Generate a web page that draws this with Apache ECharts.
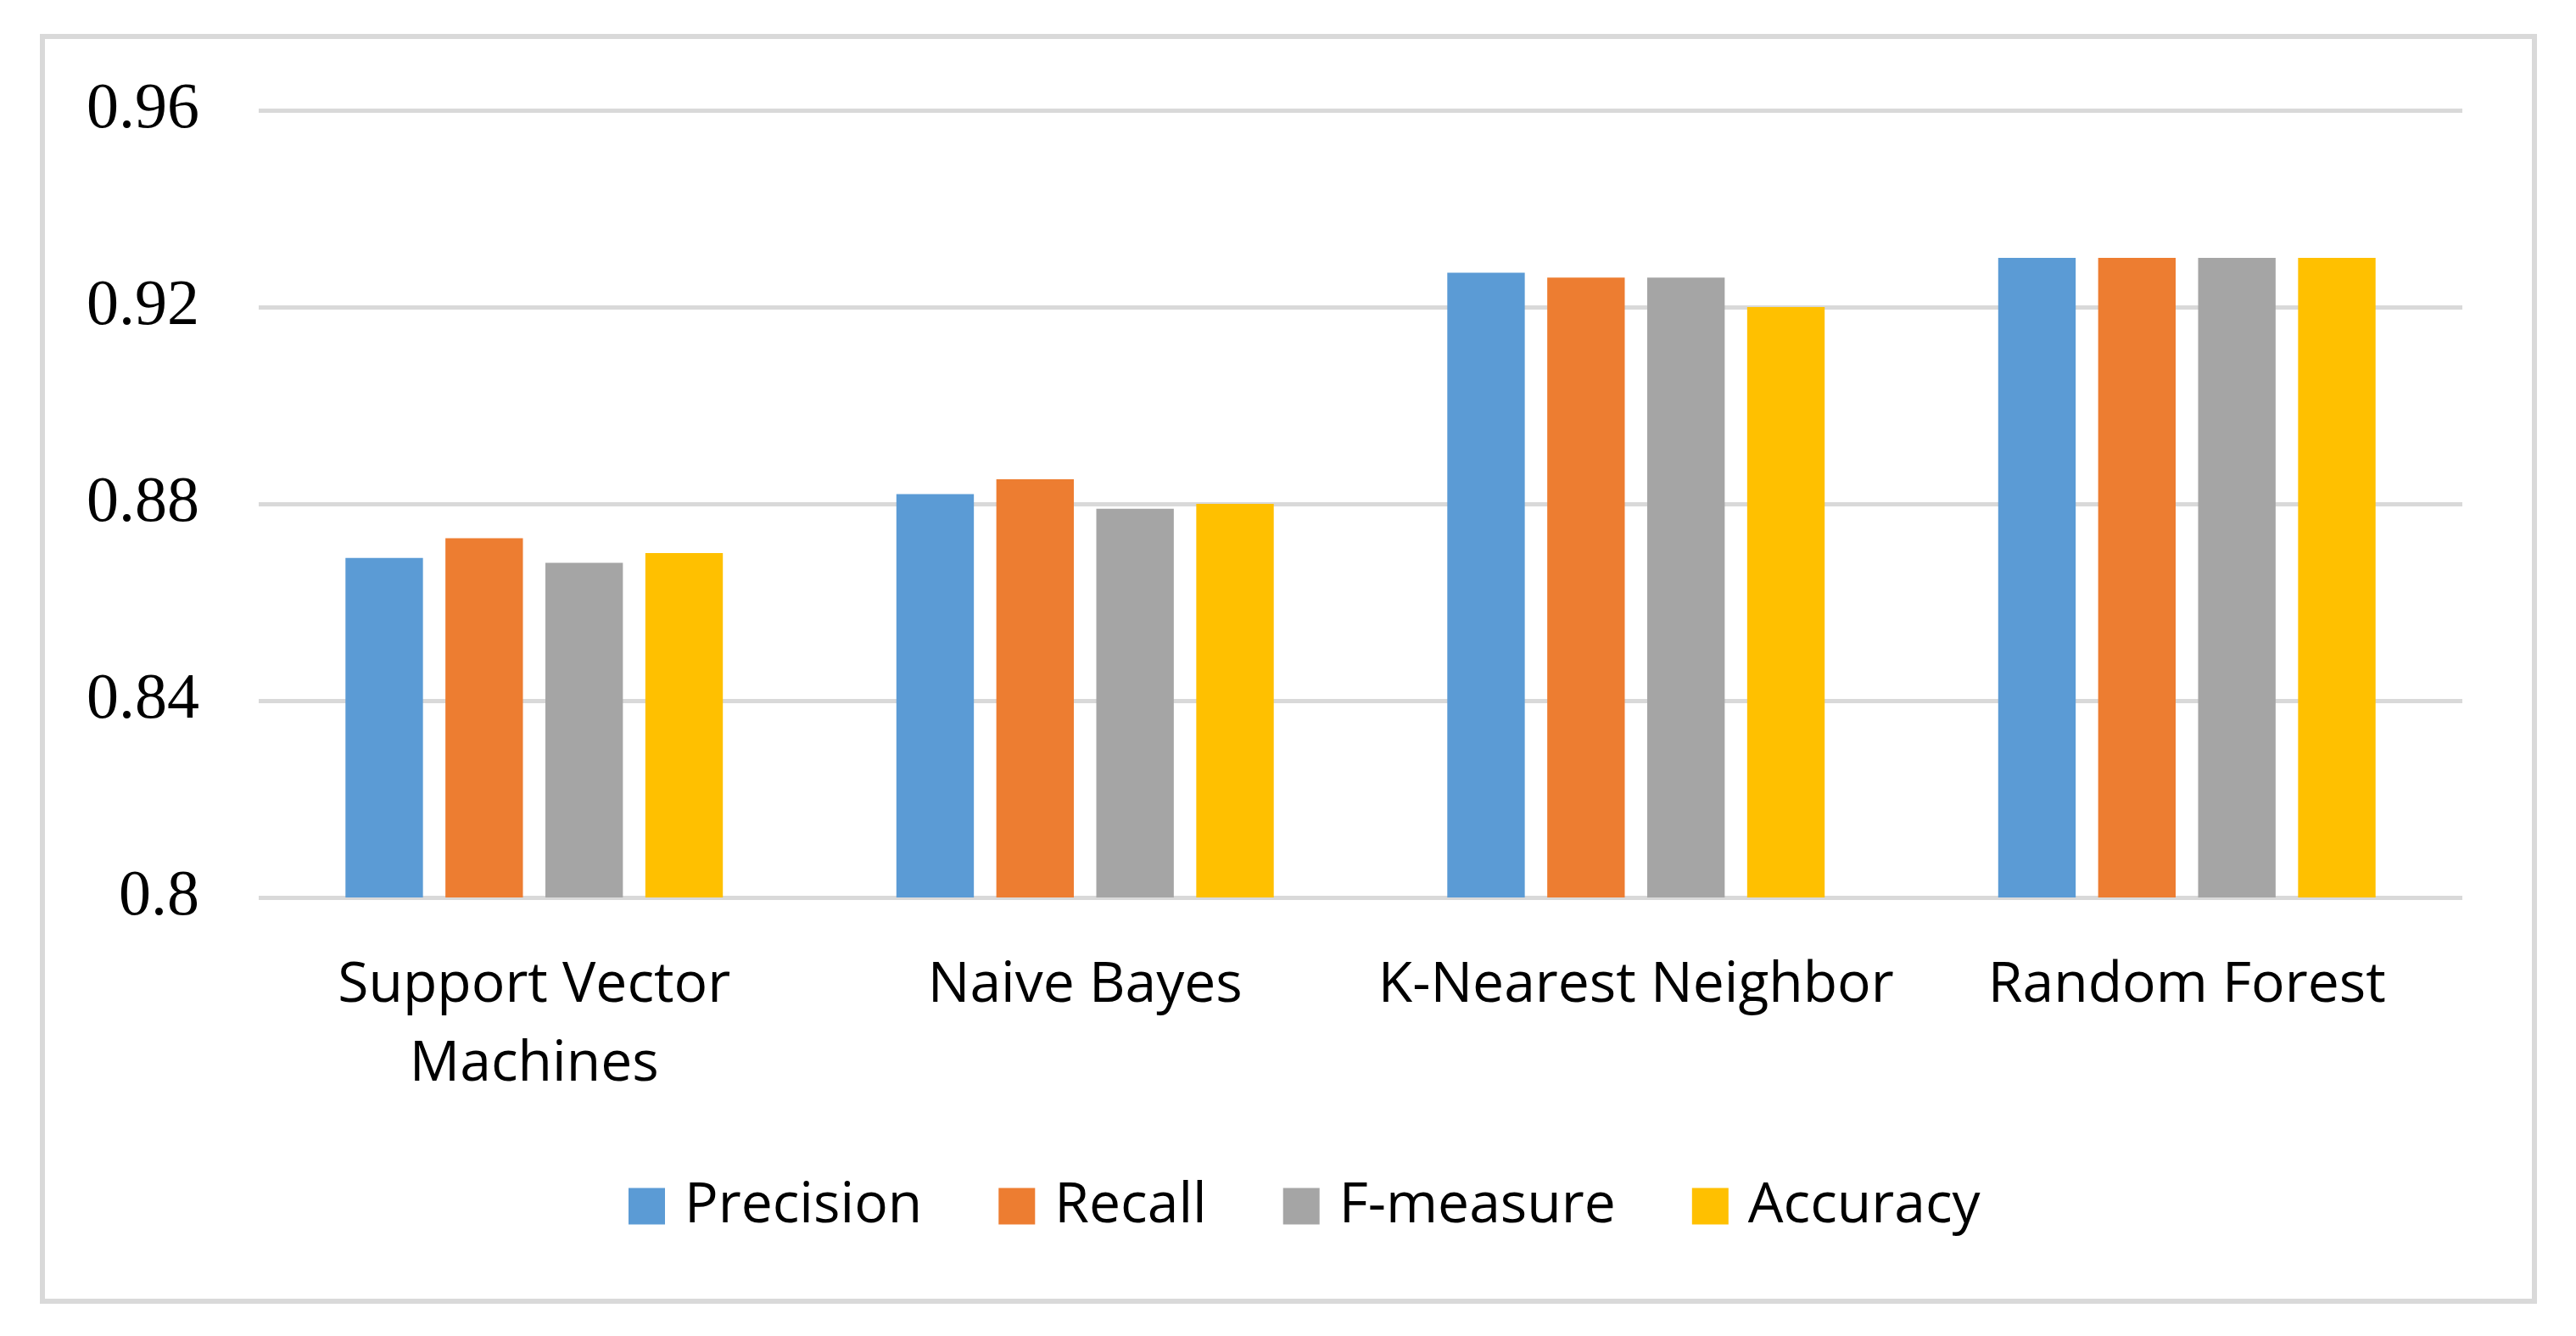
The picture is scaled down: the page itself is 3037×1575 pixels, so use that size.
<!DOCTYPE html>
<html>
<head>
<meta charset="utf-8">
<script src="https://cdn.jsdelivr.net/npm/echarts@6/dist/echarts.min.js"></script>
<style>
html,body{margin:0;padding:0;background:#fff;}
#chart{width:3037px;height:1575px;}
</style>
</head>
<body>
<div id="chart"></div>
<script>
const categories = ['Support Vector\nMachines', 'Naive Bayes', 'K-Nearest Neighbor', 'Random Forest'];
const seriesNames = ['Precision', 'Recall', 'F-measure', 'Accuracy'];
const precision = [0.869, 0.882, 0.927, 0.930];
const recall    = [0.873, 0.885, 0.926, 0.930];
const fmeasure  = [0.868, 0.879, 0.926, 0.930];
const accuracy  = [0.870, 0.880, 0.920, 0.930];
const yTickLabels = ['0.8', '0.84', '0.88', '0.92', '0.96'];
const colors = ['#5B9BD5', '#ED7D31', '#A5A5A5', '#FFC000'];

const seriesData = [precision, recall, fmeasure, accuracy];
const chart = echarts.init(document.getElementById('chart'), null, {renderer: 'canvas'});
const labelFont = '"Open Sans", "Liberation Sans", sans-serif';

chart.setOption({
  backgroundColor: '#ffffff',
  animation: false,
  color: colors,
  graphic: [{
    type: 'rect',
    shape: {x: 50, y: 43, width: 2938, height: 1491},
    style: {fill: 'none', stroke: '#d9d9d9', lineWidth: 6},
    silent: true
  }],
  grid: {left: 305, right: 134, top: 130, bottom: 517, containLabel: false},
  legend: {
    data: seriesNames,
    left: 736,
    top: 1384,
    icon: 'rect',
    itemWidth: 43,
    itemHeight: 43,
    itemGap: 90,
    textStyle: {fontFamily: labelFont, fontSize: 66, color: '#000', padding: [0, 0, 0, 18]}
  },
  xAxis: {
    type: 'category',
    data: categories,
    axisLine: {show: false},
    axisTick: {show: false},
    axisLabel: {
      fontFamily: labelFont, fontSize: 66, color: '#000',
      margin: 58, lineHeight: 93, interval: 0
    }
  },
  yAxis: {
    type: 'value',
    min: 0.8,
    max: 0.96,
    interval: 0.04,
    axisLine: {show: false},
    axisTick: {show: false},
    splitLine: {show: true, lineStyle: {color: '#d9d9d9', width: 5}},
    axisLabel: {
      fontFamily: '"Liberation Serif", "DejaVu Serif", serif',
      fontSize: 76, color: '#000', margin: 70,
      formatter: function (v) {
        const i = Math.round((v - 0.8) / 0.04);
        return yTickLabels[i];
      }
    }
  },
  series: seriesNames.map((name, k) => ({
    name: name,
    type: 'bar',
    data: seriesData[k],
    barCategoryGap: '31.5%',
    barGap: '29%',
    itemStyle: {color: colors[k]}
  }))
});
</script>
</body>
</html>
